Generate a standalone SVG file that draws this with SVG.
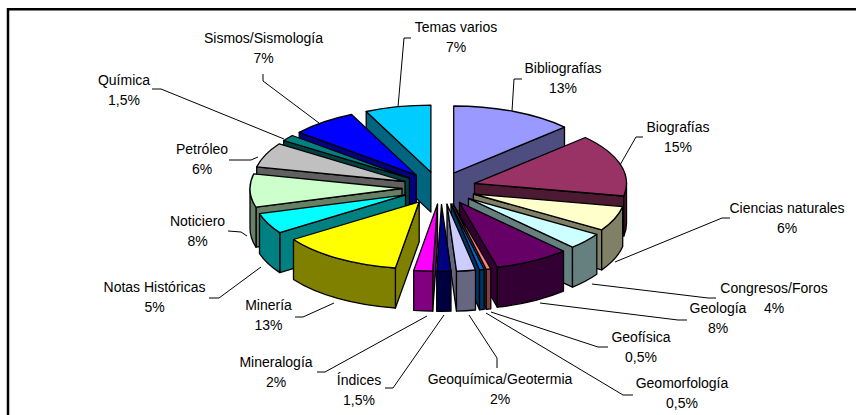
<svg xmlns="http://www.w3.org/2000/svg" width="856" height="415" viewBox="0 0 856 415">
<style>
.f path{stroke:#000;stroke-width:1.3;stroke-linejoin:round}
.lbl{font-family:"Liberation Sans",Arial,sans-serif;font-size:14px;fill:#000;text-anchor:middle}
.ld{fill:none;stroke:#000;stroke-width:1}
</style>
<rect width="856" height="415" fill="#fff"/>
<path d="M8,415 V9.3 H856" fill="none" stroke="#000" stroke-width="2.5"/>
<g id="slices" class="f">
<g id="temas" transform="translate(430.9,172.1)">
<path d="M0,0 L-64.7,-60.6 V-20.6 L0,40 Z" fill="#006680"/>
<path d="M0,0 L-64.7,-60.6 A152,67 0 0 1 0,-67 Z" fill="#00CCFF"/>
</g>
<g id="bibliografias" transform="translate(453.7,173)">
<path d="M0,0 L110.8,-45.9 V-5.9 L0,40 Z" fill="#4D4D80"/>
<path d="M0,0 V-67 A152,67 0 0 1 110.8,-45.9 Z" fill="#9999FF"/>
</g>
<g id="sismos" transform="translate(416.3,175.1)">
<path d="M0,0 L-117.1,-42.7 V-2.7 L0,40 Z" fill="#000080"/>
<path d="M0,0 L-117.1,-42.7 A152,67 0 0 1 -64.7,-60.6 Z" fill="#0000FF"/>
</g>
<g id="quimica" transform="translate(409.4,178.2)">
<path d="M0,0 L-125.7,-37.7 V2.3 L0,40 Z" fill="#004040"/>
<path d="M0,0 L-125.7,-37.7 A152,67 0 0 1 -117.1,-42.7 Z" fill="#008080"/>
</g>
<g id="petroleo" transform="translate(405,181.5)">
<path d="M0,0 L-148.3,-14.6 V25.4 L0,40 Z" fill="#606060"/>
<path d="M0,0 L-148.3,-14.6 A152,67 0 0 1 -125.7,-37.7 Z" fill="#C0C0C0"/>
</g>
<g id="biografias" transform="translate(474.5,183.4)">
<path d="M0,0 L149.3,12.6 V52.6 L0,40 Z" fill="#4D1A33"/>
<path d="M152,0 A152,67 0 0 1 149.3,12.6 V52.6 A152,67 0 0 0 152,40 Z" fill="#4D1A33"/>
<path d="M0,0 L110.8,-45.9 A152,67 0 0 1 149.3,12.6 Z" fill="#993366"/>
</g>
<g id="noticiero" transform="translate(402,188.5)">
<path d="M0,0 L-146,18.7 V58.7 L0,40 Z" fill="#668066"/>
<path d="M-146,18.7 A152,67 0 0 1 -152,0 V40 A152,67 0 0 0 -146,58.7 Z" fill="#668066"/>
<path d="M0,0 L-146,18.7 A152,67 0 0 1 -148.3,-14.6 Z" fill="#CCFFCC"/>
</g>
<g id="ciencias" transform="translate(473.4,194)">
<path d="M0,0 L128.3,35.9 V75.9 L0,40 Z" fill="#808066"/>
<path d="M149.3,12.6 A152,67 0 0 1 128.3,35.9 V75.9 A152,67 0 0 0 149.3,52.6 Z" fill="#808066"/>
<path d="M0,0 L149.3,12.6 A152,67 0 0 1 128.3,35.9 Z" fill="#FFFFCC"/>
</g>
<g id="notas" transform="translate(405.5,194.9)">
<path d="M0,0 L-125.7,37.7 V77.7 L0,40 Z" fill="#008080"/>
<path d="M-125.7,37.7 A152,67 0 0 1 -146,18.7 V58.7 A152,67 0 0 0 -125.7,77.7 Z" fill="#008080"/>
<path d="M0,0 L-125.7,37.7 A152,67 0 0 1 -146,18.7 Z" fill="#00FFFF"/>
</g>
<g id="congresos" transform="translate(468.5,198.4)">
<path d="M0,0 L104,48.8 V88.8 L0,40 Z" fill="#668080"/>
<path d="M128.3,35.9 A152,67 0 0 1 104,48.8 V88.8 A152,67 0 0 0 128.3,75.9 Z" fill="#668080"/>
<path d="M0,0 L128.3,35.9 A152,67 0 0 1 104,48.8 Z" fill="#CCFFFF"/>
</g>
<g id="mineria" transform="translate(419.2,201.8)">
<path d="M0,0 L-23.8,66.2 V106.2 L0,40 Z" fill="#808000"/>
<path d="M-23.8,66.2 A152,67 0 0 1 -125.7,37.7 V77.7 A152,67 0 0 0 -23.8,106.2 Z" fill="#808000"/>
<path d="M0,0 L-23.8,66.2 A152,67 0 0 1 -125.7,37.7 Z" fill="#FFFF00"/>
</g>
<g id="geologia" transform="translate(459.5,202.3)">
<path d="M0,0 L37.8,64.9 V104.9 L0,40 Z" fill="#330033"/>
<path d="M104,48.8 A152,67 0 0 1 37.8,64.9 V104.9 A152,67 0 0 0 104,88.8 Z" fill="#330033"/>
<path d="M0,0 L104,48.8 A152,67 0 0 1 37.8,64.9 Z" fill="#660066"/>
</g>
<g id="geofisica" transform="translate(453,203.9)">
<path d="M0,0 L33.2,65.4 V105.4 L0,40 Z" fill="#804040"/>
<path d="M37.8,64.9 A152,67 0 0 1 33.2,65.4 V105.4 A152,67 0 0 0 37.8,104.9 Z" fill="#804040"/>
<path d="M0,0 L37.8,64.9 A152,67 0 0 1 33.2,65.4 Z" fill="#FF8080"/>
</g>
<g id="geomorfologia" transform="translate(451,204)">
<path d="M0,0 L28.5,65.8 V105.8 L0,40 Z" fill="#003366"/>
<path d="M33.2,65.4 A152,67 0 0 1 28.5,65.8 V105.8 A152,67 0 0 0 33.2,105.4 Z" fill="#003366"/>
<path d="M0,0 L33.2,65.4 A152,67 0 0 1 28.5,65.8 Z" fill="#0066CC"/>
</g>
<g id="geoquimica" transform="translate(447,204.2)">
<path d="M0,0 L9.5,66.9 V106.9 L0,40 Z" fill="#666680"/>
<path d="M28.5,65.8 A152,67 0 0 1 9.5,66.9 V106.9 A152,67 0 0 0 28.5,105.8 Z" fill="#666680"/>
<path d="M0,0 L28.5,65.8 A152,67 0 0 1 9.5,66.9 Z" fill="#CCCCFF"/>
</g>
<g id="mineralogia" transform="translate(437.5,204.2)">
<path d="M0,0 L-4.8,67 V107 L0,40 Z" fill="#800080"/>
<path d="M-4.8,67 A152,67 0 0 1 -23.8,66.2 V106.2 A152,67 0 0 0 -4.8,107 Z" fill="#800080"/>
<path d="M0,0 L-4.8,67 A152,67 0 0 1 -23.8,66.2 Z" fill="#FF00FF"/>
</g>
<g id="indices" transform="translate(441.5,204.3)">
<path d="M9.5,66.9 A152,67 0 0 1 -4.8,67 V107 A152,67 0 0 0 9.5,106.9 Z" fill="#000040"/>
<path d="M0,0 L9.5,66.9 A152,67 0 0 1 -4.8,67 Z" fill="#000080"/>
</g>
</g>
<g id="connectors" class="ld">
<path d="M411,38 H404 L398,107"/>
<path d="M522,79 H514 L512,111"/>
<path d="M643,137 H636 L620,165"/>
<path d="M730,218 H722 L615,262"/>
<path d="M716,298 H708 L592,284"/>
<path d="M687,320 H678 L540,303"/>
<path d="M608,347 H598 L491,312"/>
<path d="M633,395 H623 L486,313"/>
<path d="M469,315 L497,358 V368"/>
<path d="M444,315 L393,388 H385"/>
<path d="M427,316 L325,372 H317"/>
<path d="M334,303 L303,317 H295"/>
<path d="M261,267 L219,298 H209"/>
<path d="M228,231 L241,232 L247,236"/>
<path d="M229,160 L251,160 L258,157"/>
<path d="M152,89 H161 L284,139"/>
<path d="M263,74 V81 L319,123"/>
</g>
<g id="labels" class="lbl">
<text x="456" y="32">Temas varios<tspan x="456" dy="20">7%</tspan></text>
<text x="263.5" y="43">Sismos/Sismología<tspan x="263.5" dy="20">7%</tspan></text>
<text x="563" y="73">Bibliografías<tspan x="563" dy="20">13%</tspan></text>
<text x="124" y="85">Química<tspan x="124" dy="20">1,5%</tspan></text>
<text x="678" y="132">Biografías<tspan x="678" dy="20">15%</tspan></text>
<text x="202" y="154">Petróleo<tspan x="202" dy="20">6%</tspan></text>
<text x="787" y="213">Ciencias naturales<tspan x="787" dy="20">6%</tspan></text>
<text x="197.5" y="226">Noticiero<tspan x="197.5" dy="20">8%</tspan></text>
<text x="774" y="293">Congresos/Foros<tspan x="774" dy="20">4%</tspan></text>
<text x="718" y="313">Geología<tspan x="718" dy="20">8%</tspan></text>
<text x="154.5" y="292">Notas Históricas<tspan x="154.5" dy="20">5%</tspan></text>
<text x="268.5" y="310">Minería<tspan x="268.5" dy="20">13%</tspan></text>
<text x="641" y="342">Geofísica<tspan x="641" dy="20">0,5%</tspan></text>
<text x="276" y="367">Mineralogía<tspan x="276" dy="20">2%</tspan></text>
<text x="359" y="385">Índices<tspan x="359" dy="20">1,5%</tspan></text>
<text x="500" y="384">Geoquímica/Geotermia<tspan x="500" dy="20">2%</tspan></text>
<text x="682" y="388">Geomorfología<tspan x="682" dy="20">0,5%</tspan></text>
</g>
</svg>
